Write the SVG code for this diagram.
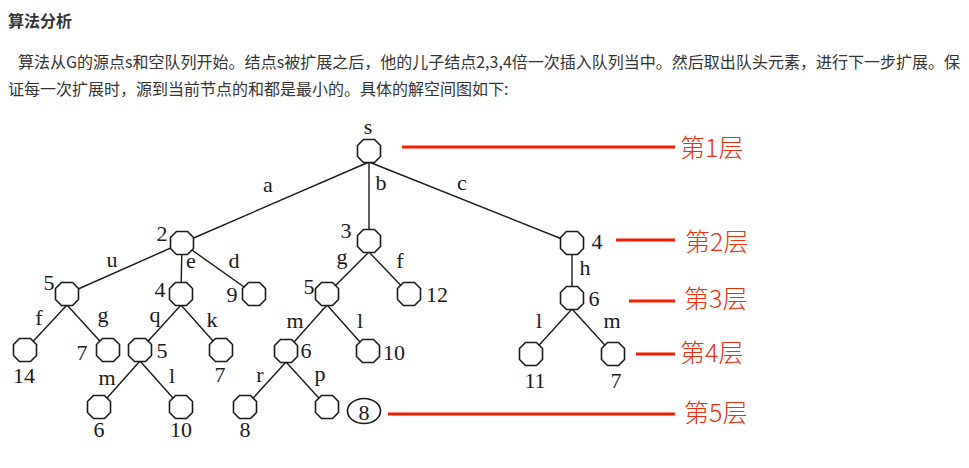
<svg xmlns="http://www.w3.org/2000/svg" width="969" height="468" viewBox="0 0 969 468">
<style>
.hd{font-family:"Noto Sans CJK SC","Noto Sans",sans-serif;font-size:16px;font-weight:bold;fill:#333}
.p{font-family:"Noto Sans CJK SC","Noto Sans",sans-serif;font-size:16px;fill:#333}
.t{font-family:"Liberation Serif","Times New Roman",serif;font-size:22px;fill:#1a1a1a;text-anchor:middle}
.lv{font-family:"Noto Sans CJK SC",sans-serif;font-size:25px;font-weight:300;fill:#e8300c}
.rl{stroke:#f41d00;stroke-width:3}
.e{stroke:#1a1a1a;stroke-width:1.4;fill:none}
.n{fill:#fff;stroke:#1a1a1a;stroke-width:1.6}
</style>
<defs>
<polygon id="oct" points="-5.5,-11.5 5.5,-11.5 11.5,-5.5 11.5,5.5 5.5,11.5 -5.5,11.5 -11.5,5.5 -11.5,-5.5"/>
</defs>
<rect width="969" height="468" fill="#fff"/>
<text class="hd" x="8" y="27">算法分析</text>
<text class="p" x="18" y="68" textLength="942" lengthAdjust="spacing">算法从G的源点s和空队列开始。结点s被扩展之后，他的儿子结点2,3,4倍一次插入队列当中。然后取出队头元素，进行下一步扩展。保</text>
<text class="p" x="8" y="95">证每一次扩展时，源到当前节点的和都是最小的。具体的解空间图如下:</text>

<g id="connectors" class="e">
<line x1="369" y1="162" x2="182" y2="243"/>
<line x1="369" y1="162" x2="369" y2="241"/>
<line x1="369" y1="162" x2="572" y2="243"/>
<line x1="182" y1="243" x2="67" y2="294"/>
<line x1="182" y1="243" x2="181" y2="294"/>
<line x1="182" y1="243" x2="254" y2="294"/>
<line x1="369" y1="252" x2="327" y2="294"/>
<line x1="369" y1="252" x2="409" y2="294"/>
<line x1="572" y1="243" x2="572" y2="298"/>
<line x1="67" y1="305" x2="25" y2="350"/>
<line x1="67" y1="305" x2="108" y2="350"/>
<line x1="181" y1="305" x2="140" y2="350"/>
<line x1="181" y1="305" x2="221" y2="350"/>
<line x1="327" y1="305" x2="286" y2="351"/>
<line x1="327" y1="305" x2="368" y2="351"/>
<line x1="572" y1="309" x2="531" y2="354"/>
<line x1="572" y1="309" x2="613" y2="354"/>
<line x1="140" y1="361" x2="99" y2="407"/>
<line x1="140" y1="361" x2="181" y2="407"/>
<line x1="286" y1="362" x2="245" y2="407"/>
<line x1="286" y1="362" x2="327" y2="407"/>
</g>

<g id="edge-labels">
<text class="t" x="268" y="192">a</text>
<text class="t" x="381" y="190">b</text>
<text class="t" x="462" y="190">c</text>
<text class="t" x="112" y="267">u</text>
<text class="t" x="191" y="268">e</text>
<text class="t" x="234" y="268">d</text>
<text class="t" x="342" y="264">g</text>
<text class="t" x="400" y="268">f</text>
<text class="t" x="585" y="275">h</text>
<text class="t" x="39" y="325">f</text>
<text class="t" x="103" y="322">g</text>
<text class="t" x="155" y="322">q</text>
<text class="t" x="212" y="327">k</text>
<text class="t" x="295" y="328">m</text>
<text class="t" x="360" y="328">l</text>
<text class="t" x="539" y="328">l</text>
<text class="t" x="612" y="328">m</text>
<text class="t" x="107" y="385">m</text>
<text class="t" x="172" y="383">l</text>
<text class="t" x="260" y="382">r</text>
<text class="t" x="320" y="381">p</text>
</g>

<g id="node-s"><use href="#oct" class="n" x="369" y="151"/><text class="t" x="368" y="134">s</text></g>
<g id="node-2"><use href="#oct" class="n" x="182" y="243"/><text class="t" x="162" y="241">2</text></g>
<g id="node-3"><use href="#oct" class="n" x="369" y="241"/><text class="t" x="346" y="238">3</text></g>
<g id="node-4"><use href="#oct" class="n" x="572" y="243"/><text class="t" x="597" y="249">4</text></g>
<g id="node-2-5"><use href="#oct" class="n" x="67" y="294"/><text class="t" x="49" y="290">5</text></g>
<g id="node-2-4"><use href="#oct" class="n" x="181" y="294"/><text class="t" x="160" y="297">4</text></g>
<g id="node-2-9"><use href="#oct" class="n" x="254" y="294"/><text class="t" x="232" y="302">9</text></g>
<g id="node-3-5"><use href="#oct" class="n" x="327" y="294"/><text class="t" x="309" y="294">5</text></g>
<g id="node-3-12"><use href="#oct" class="n" x="409" y="294"/><text class="t" x="437" y="302">12</text></g>
<g id="node-4-6"><use href="#oct" class="n" x="572" y="298"/><text class="t" x="594" y="306">6</text></g>
<g id="node-14"><use href="#oct" class="n" x="25" y="350"/><text class="t" x="24" y="383">14</text></g>
<g id="node-7a"><use href="#oct" class="n" x="108" y="350"/><text class="t" x="82" y="360">7</text></g>
<g id="node-5b"><use href="#oct" class="n" x="140" y="350"/><text class="t" x="162" y="358">5</text></g>
<g id="node-7b"><use href="#oct" class="n" x="221" y="350"/><text class="t" x="220" y="382">7</text></g>
<g id="node-6b"><use href="#oct" class="n" x="286" y="351"/><text class="t" x="306" y="358">6</text></g>
<g id="node-10a"><use href="#oct" class="n" x="368" y="351"/><text class="t" x="394" y="360">10</text></g>
<g id="node-11"><use href="#oct" class="n" x="531" y="354"/><text class="t" x="535" y="388">11</text></g>
<g id="node-7c"><use href="#oct" class="n" x="613" y="354"/><text class="t" x="616" y="388">7</text></g>
<g id="node-6c"><use href="#oct" class="n" x="99" y="407"/><text class="t" x="99" y="437">6</text></g>
<g id="node-10b"><use href="#oct" class="n" x="181" y="407"/><text class="t" x="181" y="437">10</text></g>
<g id="node-8a"><use href="#oct" class="n" x="245" y="407"/><text class="t" x="245" y="437">8</text></g>
<g id="node-p"><use href="#oct" class="n" x="327" y="407"/></g>
<g id="node-8b"><ellipse cx="364" cy="411" rx="16.5" ry="12.5" class="n"/><text class="t" x="364" y="420">8</text></g>

<g id="levels">
<line class="rl" x1="402" y1="147" x2="675" y2="147"/>
<text class="lv" x="680" y="157">第1层</text>
<line class="rl" x1="616" y1="240" x2="675" y2="240"/>
<text class="lv" x="685" y="251">第2层</text>
<line class="rl" x1="629" y1="301" x2="675" y2="301"/>
<text class="lv" x="684" y="308">第3层</text>
<line class="rl" x1="636" y1="354" x2="675" y2="354"/>
<text class="lv" x="680" y="362">第4层</text>
<line class="rl" x1="388" y1="414" x2="675" y2="414"/>
<text class="lv" x="684" y="422">第5层</text>
</g>
</svg>
